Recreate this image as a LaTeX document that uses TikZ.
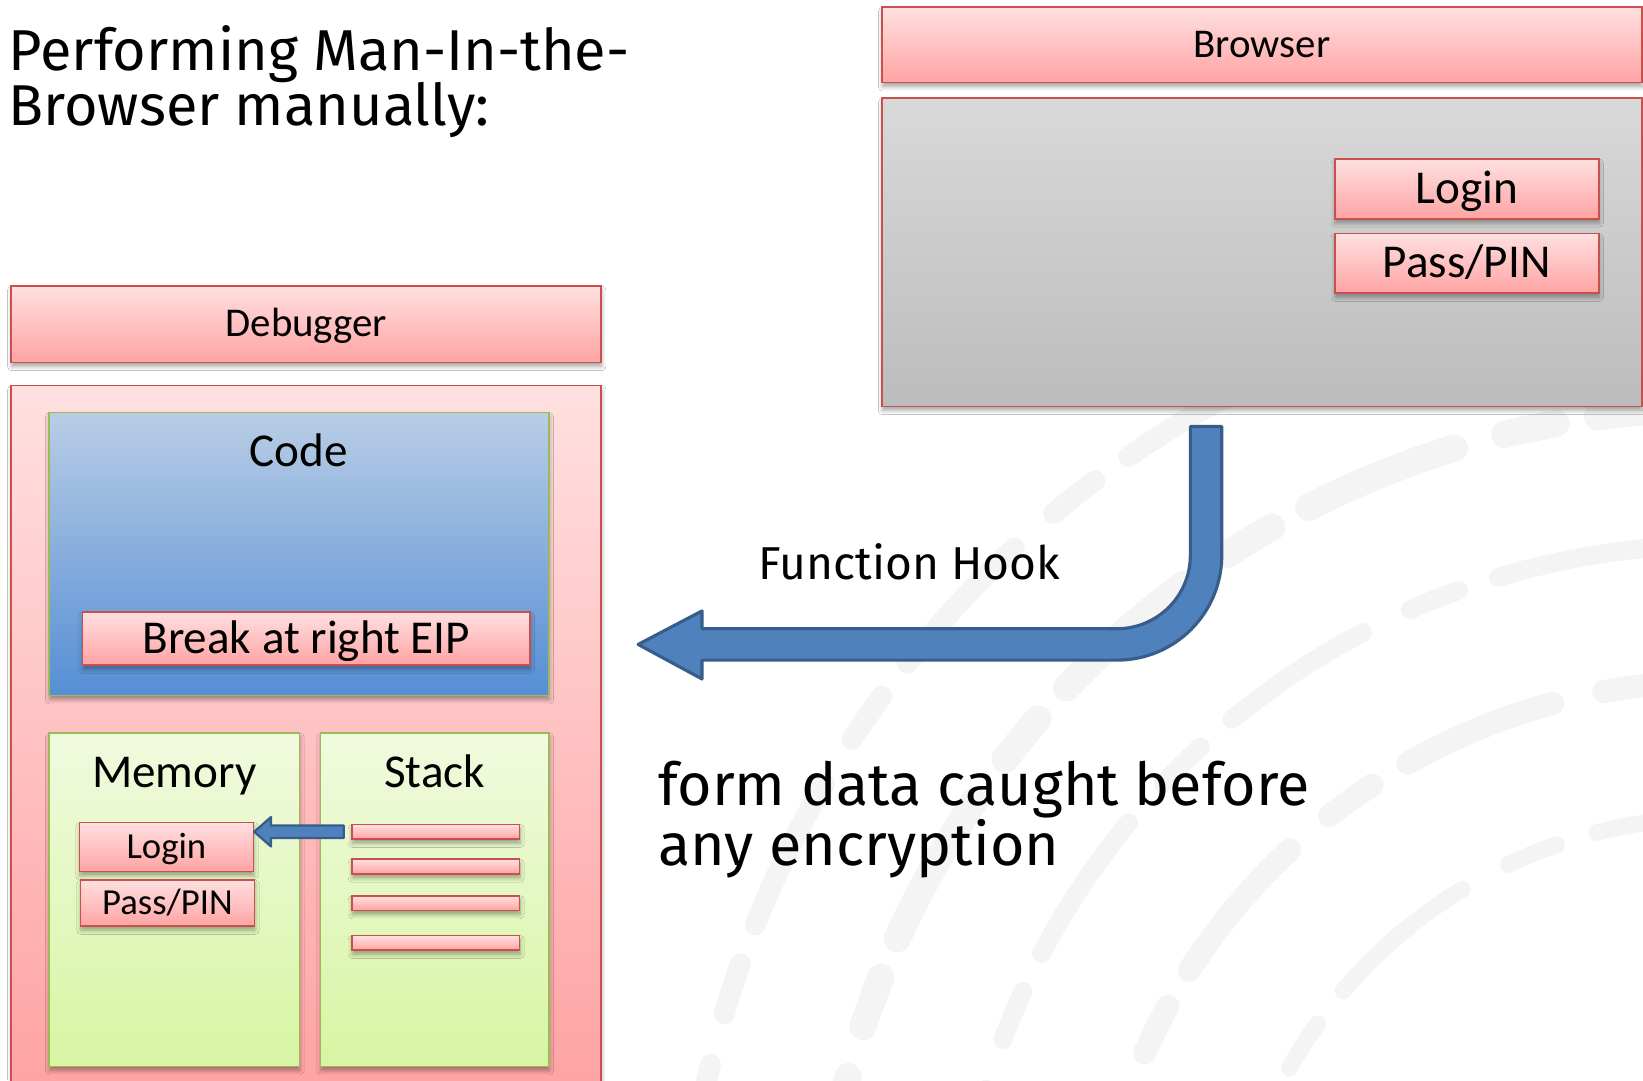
\documentclass[tikz,border=0pt]{standalone}
\usepackage{fontspec}
\setmainfont{Carlito}
\newfontfamily\titlefont{Fira Sans}
\usetikzlibrary{shadows.blur,calc}

\definecolor{redborder}{HTML}{C8504D}
\definecolor{redtop}{HTML}{FFE0E0}
\definecolor{redbot}{HTML}{FFA3A3}
\definecolor{greenborder}{HTML}{9BBB59}
\definecolor{codetop}{HTML}{B9CDE5}
\definecolor{codebot}{HTML}{558ED5}
\definecolor{memtop}{HTML}{F1FADF}
\definecolor{membot}{HTML}{D7F5A3}
\definecolor{greytop}{HTML}{D9D9D9}
\definecolor{greybot}{HTML}{BCBCBC}
\definecolor{arrowfill}{HTML}{4F81BD}
\definecolor{arrowline}{HTML}{385D8A}
\definecolor{watermark}{HTML}{F4F4F4}

\tikzset{
  softshadow/.style={blur shadow={shadow xshift=0.5pt, shadow yshift=-4pt, shadow blur radius=4pt, shadow blur steps=6, shadow opacity=35}},
  boxbase/.style={anchor=north west, inner sep=0pt, line width=1.6pt},
  redbox/.style={boxbase, draw=redborder, top color=redtop, bottom color=redbot, softshadow},
  greybox/.style={boxbase, draw=redborder, top color=greytop, bottom color=greybot, softshadow},
  codebox/.style={boxbase, draw=greenborder, top color=codetop, bottom color=codebot, softshadow},
  membox/.style={boxbase, draw=greenborder, top color=memtop, bottom color=membot, softshadow},
  barbox/.style={redbox, minimum width=160pt, minimum height=14pt},
  hookarrow/.style={draw=arrowline, fill=arrowfill, line width=3pt, line join=round},
  biglbl/.style={font=\fontsize{45}{52}\selectfont},
  midlbl/.style={font=\fontsize{39}{46}\selectfont},
  smalllbl/.style={font=\fontsize{35}{42}\selectfont},
  bigbox/.style={biglbl, text height=28pt, text depth=0pt},
  midbox/.style={midlbl, text height=24pt, text depth=0pt},
  smallbox/.style={smalllbl, text height=21.5pt, text depth=0pt},
  slidetext/.style={font=\titlefont\fontsize{55}{53}\selectfont, anchor=base west, align=left, inner sep=0pt},
}

\begin{document}
\begin{tikzpicture}[x=1pt, y=-1pt]
  \useasboundingbox[fill=white] (0,0) rectangle (1568,1031);

  % faint background watermark arcs
  \begin{scope}[watermark, line cap=round]
    \foreach \r/\w in {470/16, 600/22, 730/18, 860/26, 990/20}{
      \draw[line width=\w pt, dash pattern=on 150pt off 50pt on 50pt off 40pt] (1640,1250) ++(185:\r) arc[start angle=185, end angle=285, radius=\r];
    }
  \end{scope}

  % title
  \node[slidetext] (title) at (8,120) {Performing Man-In-the-\\Browser manually:};

  % Browser
  \node[redbox, minimum width=725pt, minimum height=72pt, midbox] (bhdr) at (841,6) {Browser};
  \node[greybox, minimum width=725pt, minimum height=294pt] (bbody) at (841,93) {};
  \node[redbox, minimum width=252pt, minimum height=57pt, bigbox] (blogin) at (1273,151) {Login};
  \node[redbox, minimum width=252pt, minimum height=57pt, bigbox] (bpass) at (1273,222) {Pass/PIN};

  % Debugger
  \node[redbox, minimum width=563pt, minimum height=73pt, midbox] (dhdr) at (10,272) {Debugger};
  \node[redbox, minimum width=563pt, minimum height=670pt] (dbody) at (10,367) {};

  \node[codebox, minimum width=477pt, minimum height=270pt] (code) at (46,393) {};
  \node[biglbl, anchor=base] (codelbl) at ($(code.north)+(0,52)$) {Code};
  \node[redbox, minimum width=427pt, minimum height=51pt, bigbox] (eip) at (78,583) {Break at right EIP};

  \node[membox, minimum width=239pt, minimum height=318pt] (mem) at (46,699) {};
  \node[biglbl, anchor=base] (memlbl) at ($(mem.north)+(0,53)$) {Memory};
  \node[membox, minimum width=218pt, minimum height=318pt] (stack) at (305,699) {};
  \node[biglbl, anchor=base] (stacklbl) at ($(stack.north)+(0,53)$) {Stack};

  \node[redbox, minimum width=166pt, minimum height=47pt, smallbox] (mlogin) at (75,784) {Login};
  \node[redbox, minimum width=166pt, minimum height=44pt, smallbox] (mpass) at (76,839) {Pass/PIN};

  \node[barbox] (bar1) at (335,786) {};
  \node[barbox] (bar2) at (335,819) {};
  \node[barbox] (bar3) at (335,854) {};
  \node[barbox] (bar4) at (335,892) {};

  % small arrow: stack -> memory login
  \coordinate (stip) at (mlogin.east |- bar1.west);
  \coordinate (stail) at ($(bar1.west)+(-7,0)$);
  \draw[hookarrow, line width=2.2pt] (stip) -- ++(16,-14) -- ++(0,8) -- ($(stail)+(0,-6)$) -- ($(stail)+(0,6)$) -- ($(stip)+(16,6)$) -- ++(0,8) -- cycle;

  % big function hook arrow
  \coordinate (hookstart) at (1151,407);
  \coordinate (hooktip) at (609,615);
  \draw[hookarrow] ($(hookstart)+(15,0)$) -- (1166,530) arc[start angle=0, end angle=90, radius=100]
     -- (670,630) -- (670,648) -- (hooktip) -- (670,583) -- (670,600) -- (1066,600)
     arc[start angle=90, end angle=0, radius=70] -- ($(hookstart)+(-15,0)$) -- cycle;
  \node[font=\titlefont\fontsize{44}{52}\selectfont, anchor=base] (hooklbl) at (868,553) {Function Hook};

  % bottom text
  \node[slidetext, font=\titlefont\fontsize{56.5}{52}\selectfont] (caught) at (628,826) {form data caught before\\any encryption};
\end{tikzpicture}
\end{document}
